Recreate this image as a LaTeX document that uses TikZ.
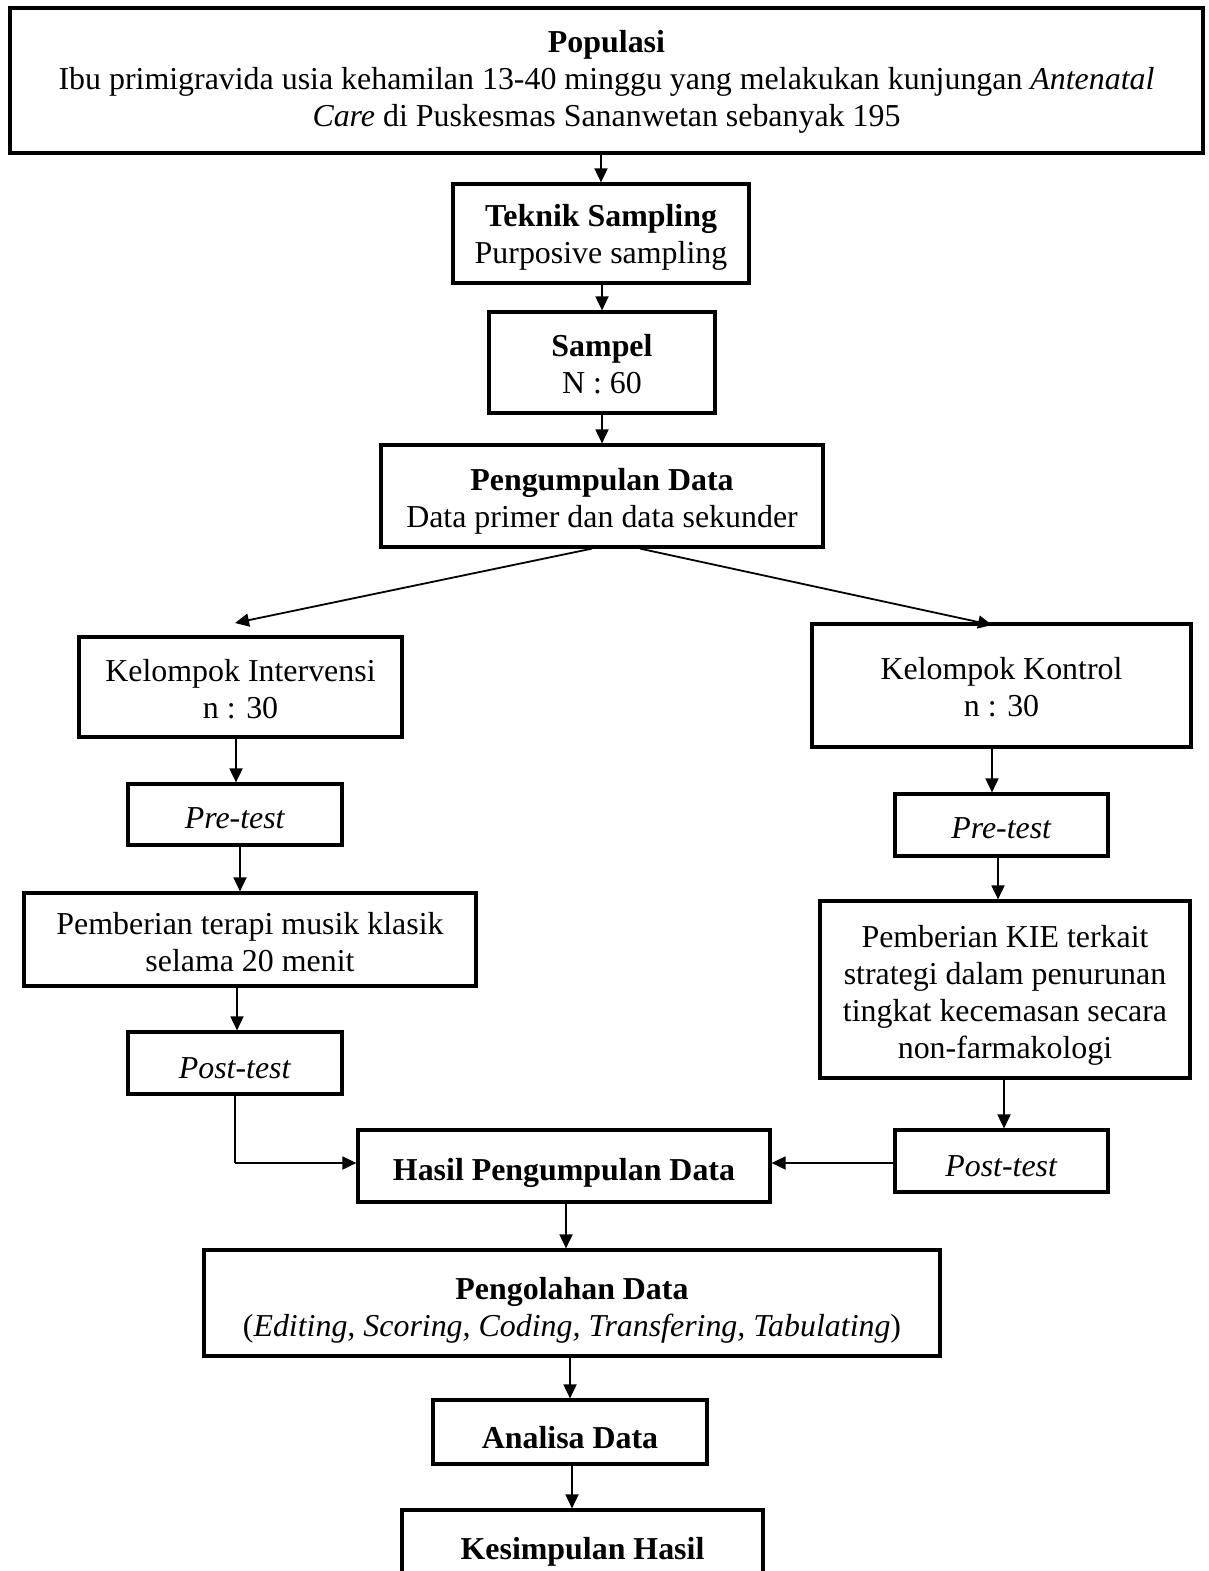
\documentclass[tikz,border=0pt]{standalone}
\usepackage{fontspec}
\setmainfont{Liberation Serif}
\usetikzlibrary{arrows.meta}
\begin{document}
\begin{tikzpicture}[x=1pt,y=-1pt,
  box/.style={draw,line width=3.2pt,inner sep=0pt},
  txt/.style={inner sep=0pt,align=center,font=\fontsize{31.9}{37}\selectfont},
  conn/.style={line width=1.8pt,-{Triangle[length=14pt,width=13pt]}}]
\useasboundingbox[fill=white] (0,0) rectangle (1208,1571);
\node[box,minimum width=1193,minimum height=145] (pop) at (606.5,80.5) {};
\node[txt] (popt) at ([yshift=-1pt]pop.center)
  {\textbf{Populasi}\\Ibu primigravida usia kehamilan 13-40 minggu yang melakukan kunjungan \textit{Antenatal}\\\textit{Care} di Puskesmas Sananwetan sebanyak 195};
\node[box,minimum width=296,minimum height=99] (tek) at (601,233.5) {};
\node[txt] (tekt) at ([yshift=-4pt]tek.center) {\textbf{Teknik Sampling}\\Purposive sampling};
\node[box,minimum width=226,minimum height=101] (sam) at (602,362.5) {};
\node[txt] (samt) at ([yshift=-2pt]sam.center) {\textbf{Sampel}\\N : 60};
\node[box,minimum width=442,minimum height=102] (pen) at (602,496) {};
\node[txt] (pent) at ([yshift=-5pt]pen.center) {\textbf{Pengumpulan Data}\\Data primer dan data sekunder};
\node[box,minimum width=323,minimum height=100] (kint) at (240.5,687) {};
\node[txt] (kintt) at ([yshift=-2pt]kint.center) {Kelompok Intervensi\\n : 30};
\node[box,minimum width=379,minimum height=123] (kkon) at (1001.5,685.5) {};
\node[txt] (kkont) at ([yshift=-2pt]kkon.center) {Kelompok Kontrol\\n : 30};
\node[box,minimum width=214,minimum height=61] (prel) at (235,814.5) {};
\node[txt] (prelt) at ([yshift=-4pt]prel.center) {\textit{Pre-test}};
\node[box,minimum width=213,minimum height=62] (prer) at (1001.5,825) {};
\node[txt] (prert) at ([yshift=-3pt]prer.center) {\textit{Pre-test}};
\node[box,minimum width=452,minimum height=93] (ter) at (250,939.5) {};
\node[txt] (tert) at ([yshift=-3pt]ter.center) {Pemberian terapi musik klasik\\selama 20 menit};
\node[box,minimum width=370,minimum height=177] (kie) at (1005,989.5) {};
\node[txt] (kiet) at ([yshift=-6pt]kie.center) {Pemberian KIE terkait\\strategi dalam penurunan\\tingkat kecemasan secara\\non-farmakologi};
\node[box,minimum width=214,minimum height=62] (postl) at (235,1063) {};
\node[txt] (postlt) at ([yshift=-5pt]postl.center) {\textit{Post-test}};
\node[box,minimum width=412,minimum height=72] (has) at (564,1166) {};
\node[txt] (hast) at ([yshift=-7pt]has.center) {\textbf{Hasil Pengumpulan Data}};
\node[box,minimum width=213,minimum height=62] (postr) at (1001.5,1161) {};
\node[txt] (postrt) at ([yshift=-5pt]postr.center) {\textit{Post-test}};
\node[box,minimum width=736,minimum height=106] (olah) at (572,1303) {};
\node[txt] (olaht) at ([yshift=-7pt]olah.center) {\textbf{Pengolahan Data}\\(\textit{Editing, Scoring, Coding, Transfering, Tabulating})};
\node[box,minimum width=274,minimum height=64] (anal) at (570,1432) {};
\node[txt] (analt) at ([yshift=-6pt]anal.center) {\textbf{Analisa Data}};
\node[box,minimum width=361,minimum height=70] (kes) at (582.5,1545) {};
\node[txt] (kest) at ([yshift=-7pt]kes.center) {\textbf{Kesimpulan Hasil}};
\coordinate (tipl) at (235,623);
\coordinate (tipr) at (992,625);
\coordinate (bend) at (235,1163);
\draw[conn] (pop.south -| tek.north) -- (tek.north);
\draw[conn] (tek.south -| sam.north) -- (sam.north);
\draw[conn] (sam.south) -- (pen.north);
\draw[conn] ([xshift=-10pt]pen.south) -- (tipl);
\draw[conn] ([xshift=38pt]pen.south) -- (tipr);
\draw[conn] ([xshift=-4.5pt]kint.south) -- ([xshift=-4.5pt]kint.south |- prel.north);
\draw[conn] ([xshift=-9.5pt]kkon.south) -- ([xshift=-9.5pt]kkon.south |- prer.north);
\draw[conn] ([xshift=5pt]prel.south) -- ([xshift=5pt]prel.south |- ter.north);
\draw[conn] ([xshift=-3.5pt]prer.south) -- ([xshift=-3.5pt]prer.south |- kie.north);
\draw[conn] ([xshift=2pt]prel.south |- ter.south) -- ([xshift=2pt]postl.north);
\draw[conn] ([xshift=-1pt]kie.south) -- ([xshift=-1pt]kie.south |- postr.north);
\draw[line width=1.8pt] (postl.south) -- (bend);
\draw[conn] (bend) -- (bend -| has.west);
\draw[conn] (postr.west |- bend) -- (bend -| has.east);
\draw[conn] ([xshift=2pt]has.south) -- ([xshift=2pt]has.south |- olah.north);
\draw[conn] (olah.south -| anal.north) -- (anal.north);
\draw[conn] ([xshift=2pt]anal.south) -- ([xshift=2pt]anal.south |- kes.north);
\end{tikzpicture}
\end{document}
